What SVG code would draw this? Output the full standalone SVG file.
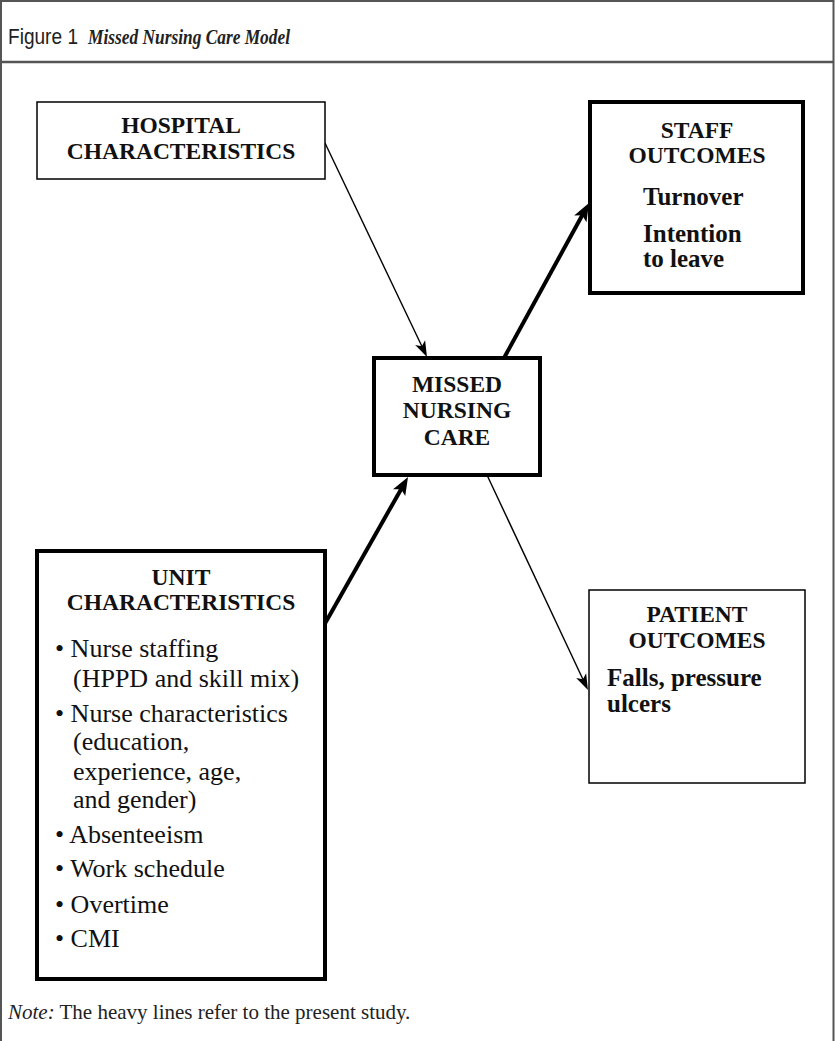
<svg xmlns="http://www.w3.org/2000/svg" width="835" height="1041" viewBox="0 0 835 1041">
<style>
.frame{fill:none;stroke:#555;stroke-width:2}
.thin{fill:#fff;stroke:#000;stroke-width:1.5}
.thick{fill:#fff;stroke:#000;stroke-width:4}
.h{font-family:"Liberation Serif",serif;font-weight:bold;font-size:23.5px;fill:#111;text-anchor:middle}
.b{font-family:"Liberation Serif",serif;font-weight:bold;font-size:25px;fill:#111}
.t{font-family:"Liberation Serif",serif;font-size:26px;fill:#111}
.lt{stroke:#000;stroke-width:1.4;fill:none}
.lk{stroke:#000;stroke-width:4;fill:none}
</style>
<defs>
<marker id="ahThin" markerUnits="userSpaceOnUse" orient="auto" overflow="visible" refX="0" refY="0" markerWidth="20" markerHeight="20">
<path d="M10,0 L-6,-5.5 L-2,0 L-6,5.5 Z" fill="#000"/>
</marker>
<marker id="ahThick" markerUnits="userSpaceOnUse" orient="auto" overflow="visible" refX="0" refY="0" markerWidth="20" markerHeight="20">
<path d="M12,0 L-6,-7 L-2,0 L-6,7 Z" fill="#000"/>
</marker>
</defs>
<rect width="835" height="1041" fill="#fff"/>
<g id="frame">
<path class="frame" d="M1,1041 V1 H833.5 V1041"/>
<line x1="1" y1="62" x2="834" y2="62" stroke="#555" stroke-width="2.5"/>
<text x="8" y="44" font-family="Liberation Sans,sans-serif" font-size="22" fill="#222" textLength="70" lengthAdjust="spacingAndGlyphs">Figure 1</text>
<text x="88" y="44" font-family="Liberation Serif,serif" font-style="italic" font-weight="bold" font-size="22" fill="#222" textLength="202" lengthAdjust="spacingAndGlyphs">Missed Nursing Care Model</text>
</g>
<g id="connectors">
<line class="lt" x1="325" y1="143" x2="422.7" y2="348" marker-end="url(#ahThin)"/>
<line class="lk" x1="504" y1="358" x2="583.2" y2="213.5" marker-end="url(#ahThick)"/>
<line class="lk" x1="323" y1="627" x2="402.1" y2="487.4" marker-end="url(#ahThick)"/>
<line class="lt" x1="487" y1="475" x2="583.7" y2="681" marker-end="url(#ahThin)"/>
</g>
<g id="hospital">
<rect class="thin" x="37" y="102" width="288" height="77"/>
<text class="h" x="181" y="133">HOSPITAL</text>
<text class="h" x="181" y="159">CHARACTERISTICS</text>
</g>
<g id="staff">
<rect class="thick" x="590" y="102" width="213" height="191"/>
<text class="h" x="697" y="138">STAFF</text>
<text class="h" x="697" y="163">OUTCOMES</text>
<text class="b" x="643" y="205">Turnover</text>
<text class="b" x="643" y="242">Intention</text>
<text class="b" x="643" y="267">to leave</text>
</g>
<g id="missed">
<rect class="thick" x="374" y="358" width="166" height="117"/>
<text class="h" x="457" y="392">MISSED</text>
<text class="h" x="457" y="418">NURSING</text>
<text class="h" x="457" y="445">CARE</text>
</g>
<g id="unit">
<rect class="thick" x="37" y="551" width="288" height="428"/>
<text class="h" x="181" y="585">UNIT</text>
<text class="h" x="181" y="610">CHARACTERISTICS</text>
<text class="t" x="55" y="657">• Nurse staffing</text>
<text class="t" x="73" y="687">(HPPD and skill mix)</text>
<text class="t" x="55" y="722">• Nurse characteristics</text>
<text class="t" x="73" y="750">(education,</text>
<text class="t" x="73" y="780">experience, age,</text>
<text class="t" x="73" y="808">and gender)</text>
<text class="t" x="55" y="843">• Absenteeism</text>
<text class="t" x="55" y="877">• Work schedule</text>
<text class="t" x="55" y="913">• Overtime</text>
<text class="t" x="55" y="947">• CMI</text>
</g>
<g id="patient">
<rect class="thin" x="589" y="590" width="216" height="193"/>
<text class="h" x="697" y="622">PATIENT</text>
<text class="h" x="697" y="648">OUTCOMES</text>
<text class="b" x="607" y="686">Falls, pressure</text>
<text class="b" x="607" y="712">ulcers</text>
</g>
<g id="note">
<text x="8" y="1019" font-family="Liberation Serif,serif" font-size="21" fill="#222"><tspan font-style="italic">Note:</tspan> The heavy lines refer to the present study.</text>
</g>
</svg>
